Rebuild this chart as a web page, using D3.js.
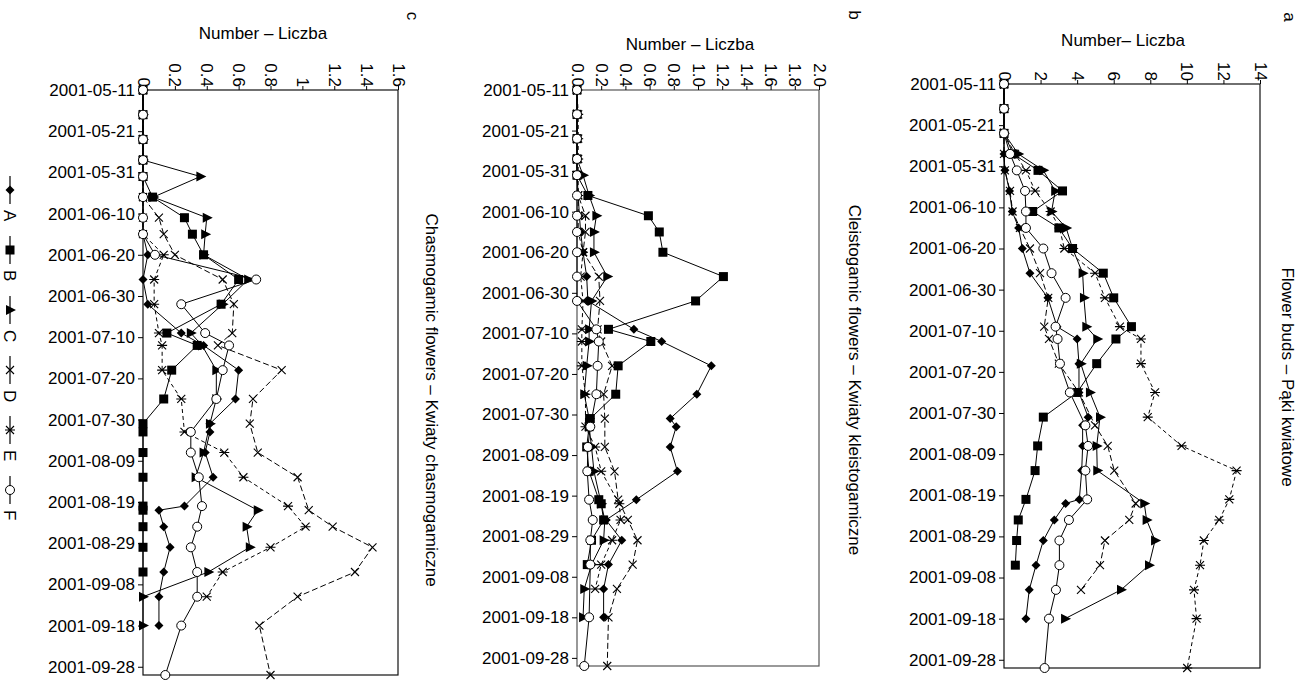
<!DOCTYPE html>
<html>
<head>
<meta charset="utf-8">
<script src="https://cdn.jsdelivr.net/npm/d3@7"></script>
<style>
  body { margin: 0; background: #fff; }
  text { font-family: "Liberation Sans", Arial, sans-serif; fill: #000; }
</style>
</head>
<body>
<script>
const width = 1306;
const height = 684;

// observation dates (shared by the three panels)
const dates = ["2001-05-11","2001-05-17","2001-05-23","2001-05-28","2001-06-01","2001-06-06",
  "2001-06-11","2001-06-15","2001-06-20","2001-06-26","2001-07-02","2001-07-09","2001-07-12",
  "2001-07-18","2001-07-25","2001-07-31","2001-08-02","2001-08-07","2001-08-13","2001-08-20",
  "2001-08-21","2001-08-25","2001-08-30","2001-09-05","2001-09-11","2001-09-18","2001-09-30"];

const dateTicks = ["2001-05-11","2001-05-21","2001-05-31","2001-06-10","2001-06-20","2001-06-30",
  "2001-07-10","2001-07-20","2001-07-30","2001-08-09","2001-08-19","2001-08-29","2001-09-08",
  "2001-09-18","2001-09-28"];

const seriesNames = ["A", "B", "C", "D", "E", "F"];

// a - flower buds
const budsA = [0,0,0,0,0.05,0.3,0.45,0.8,1.0,1.42,2.4,2.9,4.0,4.1,4.1,4.6,4.3,4.3,4.25,4.12,3.37,2.75,2.15,1.75,1.38,1.2,null];
const budsB = [0,0,0,0.5,1.86,3.2,1.57,3.0,3.75,5.43,6.0,6.97,6.12,5.07,4.0,2.15,null,1.84,1.7,1.2,null,0.78,0.69,0.62,null,null,null];
const budsC = [0,0,0,0.78,2.15,2.8,2.6,3.4,3.75,4.3,4.37,4.5,5.1,4.2,4.7,5.25,null,5.07,5.1,null,7.67,7.8,8.26,7.93,6.4,3.34,null];
const budsD = [0,0,0,0,0.05,0.33,0.47,0.87,1.42,1.97,2.42,2.2,2.46,3.0,4.1,null,4.98,5.67,6.03,null,7.2,6.85,5.52,5.25,4.21,null,null];
const budsE = [0,0,0,0.6,1.2,1.7,2.55,3.03,3.3,4.98,5.52,6.34,7.49,7.49,8.26,7.86,null,9.71,12.72,12.32,null,11.77,10.93,10.72,10.39,10.53,10.02];
const budsF = [0,0,0,0.33,0.7,1.15,1.2,1.2,2.15,2.6,3.37,2.82,2.93,3.06,3.6,null,4.45,4.6,4.45,4.55,null,3.55,3.03,3.03,2.84,2.46,2.22];
const budsTicks = [0, 2, 4, 6, 8, 10, 12, 14];

// b - cleistogamic flowers
const cleistoA = [0,0,0,0,0,0.01,0.02,0.03,0.05,0.08,0.09,0.47,0.7,1.11,0.99,0.77,0.82,0.77,0.83,0.49,null,0.24,0.37,0.26,0.22,0.22,null];
const cleistoB = [0,0,0,0,0,0.09,0.59,0.68,0.71,1.21,0.98,0.26,0.61,0.34,0.32,0.11,0.1,0.08,0.1,0.18,0.2,0.22,0.12,0.085,null,null,null];
const cleistoC = [0,0,0,0,0.05,0.1,0.16,0.14,0.14,0.25,0.12,0.1,0.1,0.08,0.06,0.1,0.1,0.12,0.14,null,0.2,0.23,0.22,0.12,0.06,0.05,null];
const cleistoD = [0,0,0,0,0,0.01,0.07,0.07,0.05,0.18,0.19,0.17,0.2,0.29,0.22,0.23,null,0.23,0.31,0.34,null,0.42,0.5,0.46,0.33,0.26,0.25];
const cleistoE = [0,0.01,0.01,0.01,0.01,0.01,0.01,0.01,0.05,0.03,0.05,0.04,0.04,0.04,0.07,null,0.07,0.15,0.2,null,0.35,0.36,0.29,0.2,0.15,null,null];
const cleistoF = [0,0,0,0,0,0,0,0,0,0,0,0.16,0.18,0.17,0.16,null,0.11,0.09,0.085,0.1,null,0.13,0.11,0.11,null,0.1,0.06];
const cleistoTicks = [0, 0.2, 0.4, 0.6, 0.8, 1.0, 1.2, 1.4, 1.6, 1.8, 2.0];

// c - chasmogamic flowers
const chasmoA = [0,0,0,0,0,0,0,0,0.03,0,0.03,0.24,0.38,0.6,0.58,0.42,0.42,0.39,0.44,0.26,0.1,0.13,0.17,0.13,0.1,0.1,null];
const chasmoB = [0,0,0,0,0,0.06,0.26,0.31,0.38,0.6,0.49,0.15,0.34,0.18,0.13,0,0,0,0,0,0,0,0,0,null,null,null];
const chasmoC = [0,0,0,0,0.36,0.065,0.4,0.39,0.38,0.66,0.5,0.3,0.37,0.46,0.46,0.42,null,0.38,0.33,null,0.72,0.65,0.67,0.41,0,0,null];
const chasmoD = [0,0,0,0,0,0,0.1,0.13,0.2,0.5,0.57,0.56,0.47,0.87,0.69,0.67,null,0.72,0.97,null,1.04,1.19,1.44,1.33,0.97,0.73,0.8];
const chasmoE = [0,0,0,0,0,0,0,0,0.13,0.07,0.07,0.1,0.12,0.12,0.24,null,0.26,0.51,0.63,0.91,null,1.02,0.8,0.5,0.4,null,null];
const chasmoF = [0,0,0,0,0,0,0,0,0.075,0.71,0.24,0.39,0.54,0.5,0.46,null,0.3,0.3,0.35,0.37,null,0.34,0.3,0.34,0.34,0.24,0.14];
const chasmoTicks = [0, 0.2, 0.4, 0.6, 0.8, 1, 1.2, 1.4, 1.6];

const parse = d3.timeParse("%Y-%m-%d");
const dateDomain = [parse("2001-05-11"), parse("2001-09-30")];

const panels = [
  { series: [budsA, budsB, budsC, budsD, budsE, budsF], ticks: budsTicks, fmt: d3.format("d"),
    left: 1004, right: 1260, top: 84, bottom: 668, frame: "#111",
    axisTitle: "Number– Liczba", axisTitlePos: [1123, 46],
    title: "Flower buds – Pąki kwiatowe", titlePos: [1288, 377],
    letter: "a", letterPos: [1290, 17] },
  { series: [cleistoA, cleistoB, cleistoC, cleistoD, cleistoE, cleistoF], ticks: cleistoTicks, fmt: d3.format(".1f"),
    left: 577, right: 819, top: 90, bottom: 666, frame: "#555",
    axisTitle: "Number – Liczba", axisTitlePos: [690, 50],
    title: "Cleistogamic flowers – Kwiaty kleistogamiczne", titlePos: [855, 380],
    letter: "b", letterPos: [855, 15] },
  { series: [chasmoA, chasmoB, chasmoC, chasmoD, chasmoE, chasmoF], ticks: chasmoTicks, fmt: d3.format("~g"),
    left: 143, right: 398, top: 90, bottom: 675, frame: "#111",
    axisTitle: "Number – Liczba", axisTitlePos: [263, 39],
    title: "Chasmogamic flowers – Kwiaty chasmogamiczne", titlePos: [432, 400],
    letter: "c", letterPos: [413, 16] }
];

const markerType = { A: "diamond", B: "square", C: "triangle", D: "cross", E: "star", F: "circle" };
const dashes = { A: null, B: null, C: null, D: "6,3", E: "4,3", F: null };

let svg = d3.select("body").append("svg")
  .attr("width", width)
  .attr("height", height);

svg.append("rect").attr("width", width).attr("height", height).attr("fill", "#fff");

function drawMarker(g, type) {
  if (type === "diamond") {
    g.append("path").attr("d", "M0,-4.5L4.5,0L0,4.5L-4.5,0Z").attr("fill", "#000");
  } else if (type === "square") {
    g.append("rect").attr("x", -4.5).attr("y", -4.5).attr("width", 9).attr("height", 9).attr("fill", "#000");
  } else if (type === "triangle") {
    g.append("path").attr("d", "M-4,-5L6,0L-4,5Z").attr("fill", "#000");
  } else if (type === "cross") {
    g.append("path").attr("d", "M-4,-4L4,4M-4,4L4,-4").attr("stroke", "#000").attr("stroke-width", 1.1);
  } else if (type === "star") {
    g.append("path").attr("d", "M-4,-4L4,4M-4,4L4,-4M-5,0L5,0").attr("stroke", "#000").attr("stroke-width", 1.1);
  } else if (type === "circle") {
    g.append("circle").attr("r", 4.5).attr("fill", "#fff").attr("stroke", "#000").attr("stroke-width", 1);
  }
}

panels.forEach((p) => {
  let maxVal = p.ticks[p.ticks.length - 1];

  let xScale = d3.scaleLinear().domain([0, maxVal]).range([p.left, p.right]);
  let yScale = d3.scaleTime().domain(dateDomain).range([p.top, p.bottom]);

  let g = svg.append("g");

  // plot frame
  g.append("rect")
    .attr("x", p.left).attr("y", p.top)
    .attr("width", p.right - p.left).attr("height", p.bottom - p.top)
    .attr("fill", "none").attr("stroke", p.frame).attr("stroke-width", 1.2);

  // value axis along the top, labels turned a quarter
  let topAxis = g.append("g")
    .attr("transform", `translate(0, ${p.top})`)
    .call(d3.axisTop(xScale).tickValues(p.ticks).tickFormat(p.fmt).tickSize(4).tickSizeOuter(0));
  topAxis.select(".domain").remove();
  topAxis.selectAll("text")
    .attr("x", 0).attr("y", 0).attr("dy", "0.35em")
    .attr("transform", "translate(0, -3) rotate(90)")
    .style("text-anchor", "end")
    .style("font-size", "17px")
    .style("font-family", '"Liberation Sans", Arial, sans-serif');

  // date axis on the left
  let leftAxis = g.append("g")
    .attr("transform", `translate(${p.left}, 0)`)
    .call(d3.axisLeft(yScale).tickValues(dateTicks.map(parse))
      .tickFormat(d3.timeFormat("%Y-%m-%d")).tickSize(5).tickPadding(3).tickSizeOuter(0));
  leftAxis.select(".domain").remove();
  leftAxis.selectAll("text")
    .style("font-size", "17px")
    .style("font-family", '"Liberation Sans", Arial, sans-serif');

  // series
  seriesNames.forEach((name, k) => {
    let points = dates
      .map((d, i) => ({ date: parse(d), value: p.series[k][i] }))
      .filter((d) => d.value !== null);

    let line = d3.line().x((d) => xScale(d.value)).y((d) => yScale(d.date));

    g.append("path")
      .datum(points)
      .attr("d", line)
      .attr("fill", "none")
      .attr("stroke", "#000")
      .attr("stroke-width", 1)
      .attr("stroke-dasharray", dashes[name]);

    g.selectAll(null)
      .data(points)
      .join("g")
      .attr("transform", (d) => `translate(${xScale(d.value)}, ${yScale(d.date)})`)
      .each(function () {
        drawMarker(d3.select(this), markerType[name]);
      });
  });

  svg.append("text")
    .attr("x", p.axisTitlePos[0]).attr("y", p.axisTitlePos[1])
    .attr("text-anchor", "middle")
    .style("font-size", "17px")
    .text(p.axisTitle);

  svg.append("text")
    .attr("transform", `translate(${p.titlePos[0]}, ${p.titlePos[1]}) rotate(90)`)
    .attr("text-anchor", "middle")
    .attr("dy", "0.35em")
    .style("font-size", "17px")
    .text(p.title);

  svg.append("text")
    .attr("transform", `translate(${p.letterPos[0]}, ${p.letterPos[1]}) rotate(90)`)
    .attr("text-anchor", "middle")
    .attr("dy", "0.35em")
    .style("font-size", "17px")
    .text(p.letter);
});

// legend, running downwards at the left edge
let legend = svg.append("g").attr("transform", "translate(10, 0)");
seriesNames.forEach((name, i) => {
  let cy = 190 + i * 60;
  legend.append("line")
    .attr("x1", 0).attr("x2", 0)
    .attr("y1", cy - 14).attr("y2", cy + 14)
    .attr("stroke", "#000").attr("stroke-width", 1.2);
  let m = legend.append("g").attr("transform", `translate(0, ${cy})`);
  drawMarker(m, markerType[name]);
  legend.append("text")
    .attr("transform", `translate(0, ${cy + 20}) rotate(90)`)
    .attr("dy", "0.35em")
    .style("font-size", "17px")
    .text(name);
});
</script>
</body>
</html>
